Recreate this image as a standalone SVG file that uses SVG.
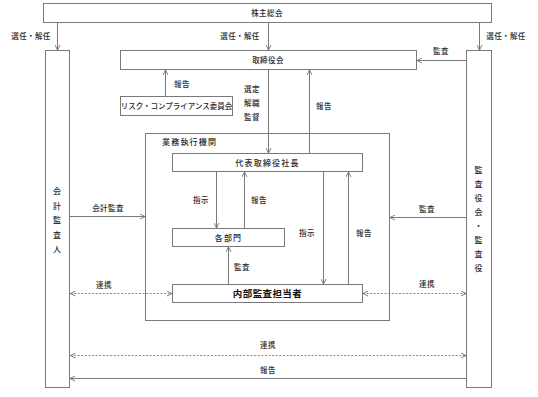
<svg xmlns="http://www.w3.org/2000/svg" width="538" height="397" viewBox="0 0 538 397">
<defs>
<marker id="ah" viewBox="0 0 6 6" refX="5.5" refY="3" markerWidth="6" markerHeight="6" markerUnits="userSpaceOnUse" orient="auto-start-reverse">
<path d="M0.5,0.5 L5.5,3 L0.5,5.5" fill="none" stroke="#6f6f6f" stroke-width="0.9"/>
</marker>
</defs>
<style>
.box{fill:#fff;stroke:#7a7a7a;stroke-width:1}
.t{font-family:"Noto Sans CJK JP","Noto Sans",sans-serif;font-size:7.5px;fill:#2a2a2a;text-anchor:middle;letter-spacing:0.4px;font-weight:500}
.tl{font-size:8px;letter-spacing:1.2px}
.b{font-size:9.5px;font-weight:bold;fill:#111;letter-spacing:0.4px}
.c{fill:none;stroke:#7a7a7a;stroke-width:1;marker-end:url(#ah)}
.d{fill:none;stroke:#7a7a7a;stroke-width:0.9;stroke-dasharray:2,1.6;marker-start:url(#ah);marker-end:url(#ah)}
</style>
<rect width="538" height="397" fill="#fff"/>
<g id="shareholders">
<rect class="box" x="43.5" y="3.5" width="448" height="19"/>
<text class="t" x="267" y="16">株主総会</text>
</g>
<g id="auditor">
<rect class="box" x="45.5" y="50.5" width="24" height="337"/>
<text class="t tl" x="57.5" y="194">会</text>
<text class="t tl" x="57.5" y="208.5">計</text>
<text class="t tl" x="57.5" y="223">監</text>
<text class="t tl" x="57.5" y="237.5">査</text>
<text class="t tl" x="57.5" y="252">人</text>
</g>
<g id="kansayaku">
<rect class="box" x="466.5" y="50.5" width="25" height="337"/>
<text class="t tl" x="479" y="173">監</text>
<text class="t tl" x="479" y="187">査</text>
<text class="t tl" x="479" y="201">役</text>
<text class="t tl" x="479" y="215">会</text>
<text class="t tl" x="479" y="229">・</text>
<text class="t tl" x="479" y="243">監</text>
<text class="t tl" x="479" y="257">査</text>
<text class="t tl" x="479" y="271">役</text>
</g>
<g id="board">
<rect class="box" x="120.5" y="50.5" width="296" height="19"/>
<text class="t" x="268" y="63">取締役会</text>
</g>
<g id="risk">
<rect class="box" x="120.5" y="96.5" width="112" height="19"/>
<text class="t" x="176.5" y="109" style="letter-spacing:0">リスク・コンプライアンス委員会</text>
</g>
<g id="exec">
<rect class="box" x="145.5" y="133.5" width="244" height="187"/>
<text class="t tl" x="162" y="145" style="text-anchor:start">業務執行機関</text>
</g>
<g id="president">
<rect class="box" x="172.5" y="153.5" width="190" height="18"/>
<text class="t tl" x="267.5" y="165.5">代表取締役社長</text>
</g>
<g id="depts">
<rect class="box" x="172.5" y="228.5" width="112" height="18"/>
<text class="t tl" x="228.5" y="240.5">各部門</text>
</g>
<g id="internal">
<rect class="box" x="172.5" y="284.5" width="190" height="18"/>
<text class="t b" x="267.5" y="297">内部監査担当者</text>
</g>
<g id="connectors">
<path class="c" d="M57.5,22.5 V50"/>
<path class="c" d="M268.5,22.5 V50"/>
<path class="c" d="M479.5,22.5 V50"/>
<path class="c" d="M466,60.5 H417"/>
<path class="c" d="M165.5,96 V70"/>
<path class="c" d="M268.5,70 V153"/>
<path class="c" d="M309.5,153 V70"/>
<path class="c" d="M216.5,172 V228"/>
<path class="c" d="M244.5,228 V172"/>
<path class="c" d="M228.5,284 V247"/>
<path class="c" d="M323.5,172 V284"/>
<path class="c" d="M348.5,284 V172"/>
<path class="c" d="M70,216.5 H145"/>
<path class="c" d="M466,217.5 H390"/>
<path class="d" d="M70.5,293.5 H172"/>
<path class="d" d="M363,293.5 H466"/>
<path class="d" d="M70.5,355.5 H466"/>
<path class="c" d="M466,378.5 H70"/>
<text class="t" x="31" y="39">選任・解任</text>
<text class="t" x="240" y="39">選任・解任</text>
<text class="t" x="506" y="39">選任・解任</text>
<text class="t" x="441" y="54">監査</text>
<text class="t" x="182" y="87">報告</text>
<text class="t" x="252" y="92">選定</text>
<text class="t" x="252" y="105.5">解職</text>
<text class="t" x="252" y="119.5">監督</text>
<text class="t" x="324" y="109">報告</text>
<text class="t" x="201" y="203">指示</text>
<text class="t" x="259" y="203">報告</text>
<text class="t" x="242" y="270">監査</text>
<text class="t" x="307" y="236">指示</text>
<text class="t" x="364" y="236">報告</text>
<text class="t" x="108" y="211">会計監査</text>
<text class="t" x="427" y="212">監査</text>
<text class="t" x="104" y="288">連携</text>
<text class="t" x="427" y="287">連携</text>
<text class="t" x="268" y="348">連携</text>
<text class="t" x="268" y="373">報告</text>
</g>
</svg>
